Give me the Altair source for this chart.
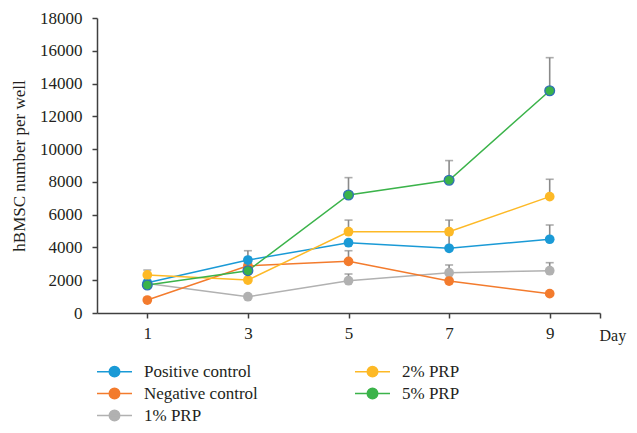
import altair as alt
import pandas as pd

days = [1, 3, 5, 7, 9]
series = ["Positive control", "Negative control", "1% PRP", "2% PRP", "5% PRP"]
colors = {"Positive control": "#1a9ad6", "Negative control": "#f37b2d",
          "1% PRP": "#b1b1b1", "2% PRP": "#fdb926", "5% PRP": "#3bb34a"}
values = {
    "Positive control": [1850, 3230, 4290, 3950, 4500],
    "Negative control": [790, 2880, 3150, 1950, 1180],
    "1% PRP": [1800, 995, 1970, 2460, 2580],
    "2% PRP": [2320, 2010, 4960, 4960, 7100],
    "5% PRP": [1710, 2580, 7200, 8100, 13560],
}
# upper end of the error bar (None = not visible)
err_top = {
    "Positive control": [None, 3800, None, 4800, 5370],
    "Negative control": [None, None, 3800, None, None],
    "1% PRP": [None, None, 2380, 2930, 3070],
    "2% PRP": [2620, None, 5670, 5670, 8160],
    "5% PRP": [None, None, 8260, 9300, 15580],
}
draw_order = ["1% PRP", "Negative control", "Positive control", "2% PRP", "5% PRP"]

rows, erows = [], []
for s in draw_order:
    for d, v, e in zip(days, values[s], err_top[s]):
        rows.append({"series": s, "day": d, "value": v, "rank": draw_order.index(s)})
        if e is not None:
            erows.append({"series": s, "day": d, "value": v, "top": e})
df = pd.DataFrame(rows)
edf = pd.DataFrame(erows)

FONT = "Liberation Serif"
TXT = "#231f20"

xscale = alt.Scale(domain=[0, 10], nice=False, zero=False)
yscale = alt.Scale(domain=[0, 18000], nice=False)
color = alt.Color(
    "series:N",
    scale=alt.Scale(domain=series, range=[colors[s] for s in series]),
    legend=alt.Legend(
        title=None, orient="none", legendX=8, legendY=344, columns=2,
        symbolType="M-2,0H2M0.6,0A0.6,0.6 0 1,1 -0.6,0A0.6,0.6 0 1,1 0.6,0Z",
        symbolSize=306, symbolStrokeWidth=1.5, labelFont=FONT, labelFontSize=17,
        labelColor=TXT, labelOffset=20, columnPadding=94, rowPadding=4, padding=0,
        symbolOpacity=1,
    ),
)

xaxis = alt.Axis(values=[1, 3, 5, 7, 9, 10], labelExpr="datum.value == 10 ? '' : datum.label",
                 title="Day", titleX=502, titleY=27, titleAlign="left", titleBaseline="alphabetic",
                 titleAngle=0, titleFontWeight="normal", grid=False, tickSize=5, labelPadding=7,
                 labelFont=FONT, labelFontSize=17, titleFont=FONT, titleFontSize=16,
                 labelColor=TXT, titleColor=TXT, labelOverlap=False)
yaxis = alt.Axis(values=list(range(0, 18001, 2000)), format="d", title="hBMSC number per well",
                 titleFontWeight="normal", grid=False, tickSize=5, labelPadding=10,
                 titlePadding=11, labelFont=FONT, labelFontSize=17, titleFont=FONT,
                 titleFontSize=17, labelColor=TXT, titleColor=TXT, labelOverlap=False)
x = alt.X("day:Q", scale=xscale, axis=xaxis)
y = alt.Y("value:Q", scale=yscale, axis=yaxis)

err_rule = alt.Chart(edf).mark_rule(color="#8a8a8a", strokeWidth=1.6).encode(
    x=x, y=y, y2="top:Q")
err_cap = alt.Chart(edf).mark_tick(color="#8a8a8a", orient="horizontal", size=8, thickness=1.6).encode(
    x=x, y=alt.Y("top:Q", scale=yscale, axis=yaxis))

lines = alt.Chart(df).mark_line(strokeWidth=1.5).encode(
    x=x, y=y, color=color, detail="series:N", order="day:Q")
points = alt.Chart(df).mark_point(filled=True, size=95, opacity=1).encode(
    x=x, y=y, color=color, order=alt.Order("rank:Q"))
green_ring = alt.Chart(df[df.series == "5% PRP"]).mark_point(
    filled=False, size=95, stroke="#2f6fb5", strokeWidth=1.3, opacity=1).encode(
    x=x, y=y)

chart = alt.layer(err_rule, err_cap, lines, points, green_ring).properties(
    width=503, height=295,
    autosize=alt.AutoSizeParams(type="none"),
    padding={"left": 89, "top": 10, "right": 29, "bottom": 112},
    background="white",
).configure_view(stroke=None).configure_axis(
    domainColor="#404040", tickColor="#404040", domainWidth=1.5, tickWidth=1.5,
)

chart.save("out.html", embed_options={"renderer": "svg", "actions": False})
